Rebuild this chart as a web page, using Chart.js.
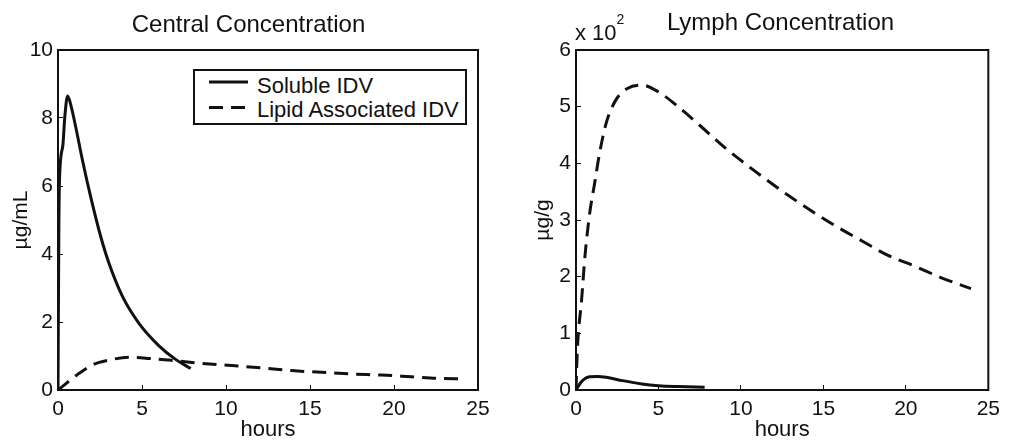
<html>
    <head>
        <title>IDV Concentration</title>
        <script src="https://cdn.jsdelivr.net/npm/chart.js@4.4.0/dist/chart.umd.min.js"></script>
        <style>
            body { margin: 0; background: #fff; font-family: "Liberation Sans", Arial, sans-serif; color: #111; }
            #wrap { position: relative; width: 1012px; height: 446px; overflow: hidden; }
            canvas { position: absolute; top: 0; }
            #central-chart { left: 0; }
            #lymph-chart { left: 520px; }
            .title { position: absolute; font-size: 24px; line-height: 24px; text-align: center; white-space: nowrap; }
            #central-title { left: 0; width: 497px; top: 12px; }
            #lymph-title { left: 520px; width: 521px; top: 10px; }
            #multiplier { position: absolute; left: 575px; top: 22px; font-size: 22px; line-height: 22px; white-space: nowrap; }
            #multiplier sup { font-size: 14px; position: relative; top: -16px; vertical-align: baseline; }
            #central-legend { position: absolute; left: 193px; top: 69px; }
        </style>
    </head>

    <body>
        <div id="wrap">
            <canvas id="central-chart" width="506" height="446"></canvas>
            <canvas id="lymph-chart" width="492" height="446"></canvas>
            <div class="title" id="central-title">Central Concentration</div>
            <div class="title" id="lymph-title">Lymph Concentration</div>
            <div id="multiplier">x 10<sup>2</sup></div>
            <svg id="central-legend" width="274" height="56"></svg>
        </div>

        <script>
            // series names
            const seriesNames = ['Soluble IDV', 'Lipid Associated IDV'];

            // Central compartment (ug/mL)
            const centralSolubleHours = [0, 0.05, 0.09, 0.29, 0.4, 0.57, 0.79, 1.07, 1.46, 1.96, 2.55, 3.04, 3.83, 4.82, 6.01, 7.0, 7.9];
            const centralSoluble = [0, 4.7, 6.2, 7.2, 8.0, 8.65, 8.33, 7.7, 6.75, 5.65, 4.5, 3.72, 2.76, 1.96, 1.3, 0.9, 0.63];
            const centralLipidHours = [0, 1.26, 2.05, 3.04, 4.23, 5.42, 6.6, 8.4, 10.56, 12.34, 13.92, 15.7, 17.48, 19.26, 21.04, 22.8, 24];
            const centralLipid = [0, 0.49, 0.74, 0.88, 0.96, 0.93, 0.88, 0.79, 0.71, 0.64, 0.57, 0.52, 0.47, 0.44, 0.39, 0.34, 0.33];

            // Lymph compartment (ug/g)
            const lymphSolubleHours = [0, 0.34, 0.83, 1.3, 1.83, 2.82, 4.0, 5.0, 6.2, 7.8];
            const lymphSoluble = [0, 15, 23.5, 24, 22.5, 16.5, 10.6, 7.6, 6, 4.7];
            const lymphLipidHours = [0, 0.08, 0.34, 0.54, 0.83, 1.13, 1.43, 1.83, 2.42, 3.11, 4.01, 5.0, 6.19, 7.58, 8.97, 10.36, 11.55, 12.84, 14.33, 15.82, 17.4, 18.89, 20.58, 22.16, 23.95];
            const lymphLipid = [0, 70, 159, 235, 312, 365, 418, 471, 512, 532, 538, 526, 500, 465, 429, 397, 371, 344, 315, 288, 262, 238, 218, 198, 179];

            const lineDashes = [[], [14, 8]];
            const inkColor = '#111';

            Chart.defaults.font.family = '"Liberation Sans", Arial, sans-serif';
            Chart.defaults.color = inkColor;

            const toPoints = (xs, ys) => xs.map((x, i) => ({ x, y: ys[i] }));

            function makeDataset(i, xs, ys) {
                return {
                    label: seriesNames[i],
                    data: toPoints(xs, ys),
                    borderColor: inkColor,
                    borderWidth: 3,
                    borderDash: lineDashes[i],
                    pointRadius: 0,
                    cubicInterpolationMode: 'monotone',
                    fill: false
                };
            }

            // box round the plot area, like matlab "box on"
            const boxFrame = {
                id: 'boxFrame',
                afterDraw(chart) {
                    const { ctx, chartArea: a } = chart;
                    ctx.save();
                    ctx.strokeStyle = inkColor;
                    ctx.lineWidth = 2;
                    ctx.strokeRect(a.left, a.top, a.right - a.left, a.bottom - a.top);
                    ctx.restore();
                }
            };

            function makeOptions(cfg) {
                return {
                    responsive: false,
                    animation: false,
                    layout: { padding: { left: 0, top: 50, right: cfg.padRight, bottom: 0 } },
                    plugins: { legend: { display: false }, tooltip: { enabled: false } },
                    scales: {
                        x: {
                            type: 'linear',
                            min: 0,
                            max: 25,
                            border: { display: false },
                            grid: { drawOnChartArea: false, drawTicks: true, tickLength: -5, color: inkColor },
                            ticks: { stepSize: 5, padding: 12, maxRotation: 0, autoSkip: false, font: { size: 21 } },
                            title: { display: true, text: 'hours', font: { size: 22 }, padding: { top: 0, bottom: 3 } },
                            afterFit: (scale) => { scale.height = 56; }
                        },
                        y: {
                            min: 0,
                            max: cfg.yMax,
                            border: { display: false },
                            grid: { drawOnChartArea: false, drawTicks: true, tickLength: -5, color: inkColor },
                            ticks: { stepSize: cfg.yStep, padding: 10, font: { size: 21 }, callback: cfg.yFormat },
                            title: { display: true, text: cfg.yTitle, font: { size: 21 }, padding: { top: cfg.yTitlePad, bottom: 0 } },
                            afterFit: (scale) => { scale.width = cfg.yWidth; }
                        }
                    }
                };
            }

            const centralChart = new Chart(document.getElementById('central-chart'), {
                type: 'line',
                data: {
                    datasets: [
                        makeDataset(0, centralSolubleHours, centralSoluble),
                        makeDataset(1, centralLipidHours, centralLipid)
                    ]
                },
                options: makeOptions({ yMax: 10, yStep: 2, yTitle: 'µg/mL', yWidth: 58, padRight: 28, yTitlePad: 9, yFormat: (v) => v }),
                plugins: [boxFrame]
            });

            const lymphChart = new Chart(document.getElementById('lymph-chart'), {
                type: 'line',
                data: {
                    datasets: [
                        makeDataset(0, lymphSolubleHours, lymphSoluble),
                        makeDataset(1, lymphLipidHours, lymphLipid)
                    ]
                },
                options: makeOptions({ yMax: 600, yStep: 100, yTitle: 'µg/g', yWidth: 56, padRight: 16, yTitlePad: 11, yFormat: (v) => v / 100 }),
                plugins: [boxFrame]
            });

            // legend box inside the central plot, built from the dataset labels
            function drawLegend(chart, svgId) {
                const svg = document.getElementById(svgId);
                const ns = 'http://www.w3.org/2000/svg';
                const rect = document.createElementNS(ns, 'rect');
                rect.setAttribute('x', 1);
                rect.setAttribute('y', 1);
                rect.setAttribute('width', 272);
                rect.setAttribute('height', 54);
                rect.setAttribute('fill', '#fff');
                rect.setAttribute('stroke', inkColor);
                rect.setAttribute('stroke-width', 2);
                svg.appendChild(rect);

                chart.data.datasets.forEach((ds, i) => {
                    const line = document.createElementNS(ns, 'line');
                    const ly = 13 + 25.5 * i;
                    line.setAttribute('x1', 16);
                    line.setAttribute('x2', 55);
                    line.setAttribute('y1', ly);
                    line.setAttribute('y2', ly);
                    line.setAttribute('stroke', ds.borderColor);
                    line.setAttribute('stroke-width', ds.borderWidth);
                    if (ds.borderDash.length) line.setAttribute('stroke-dasharray', ds.borderDash.join(' '));
                    svg.appendChild(line);

                    const text = document.createElementNS(ns, 'text');
                    text.setAttribute('x', 64);
                    text.setAttribute('y', 24 + 24 * i);
                    text.setAttribute('font-size', 22);
                    text.setAttribute('font-family', '"Liberation Sans", Arial, sans-serif');
                    text.setAttribute('fill', inkColor);
                    text.textContent = ds.label;
                    svg.appendChild(text);
                });
            }
            drawLegend(centralChart, 'central-legend');
        </script>
    </body>
</html>
